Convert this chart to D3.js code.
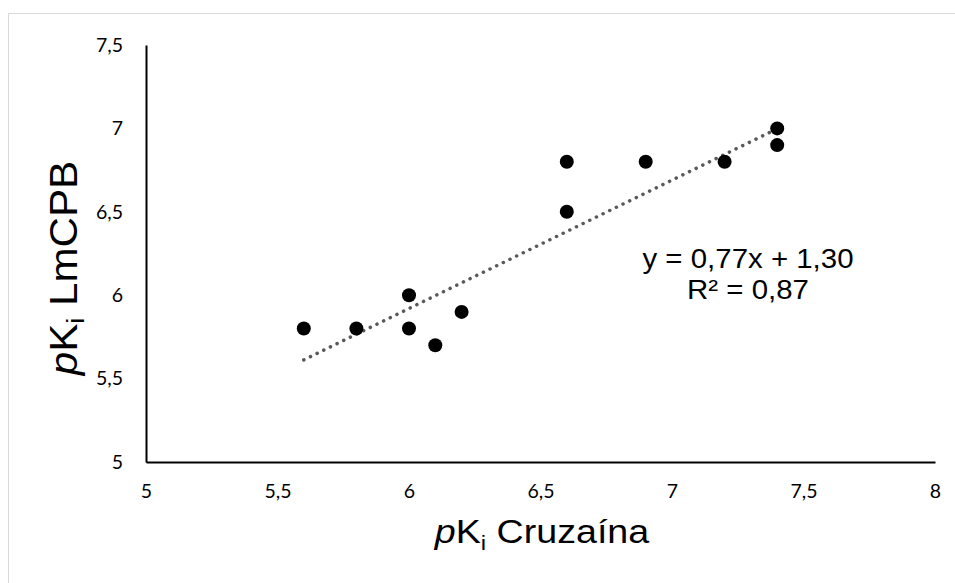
<!DOCTYPE html>
<html>
<head>
<meta charset="utf-8">
<script src="https://cdn.jsdelivr.net/npm/d3@7"></script>
<style>
  body { margin: 0; background: #fff; }
  svg { display: block; }
</style>
</head>
<body>
<div id="chart"></div>
<script>
// pKi values
var cruzaina = [5.6, 5.8, 6.0, 6.0, 6.1, 6.2, 6.6, 6.6, 6.9, 7.2, 7.4, 7.4];
var lmcpb    = [5.8, 5.8, 6.0, 5.8, 5.7, 5.9, 6.8, 6.5, 6.8, 6.8, 7.0, 6.9];
var xTicks = [5, 5.5, 6, 6.5, 7, 7.5, 8];
var yTicks = [5, 5.5, 6, 6.5, 7, 7.5];
var slope = 0.77, intercept = 1.30;
var eqLines = ["y = 0,77x + 1,30", "R\u00b2 = 0,87"];

var width = 955, height = 583;
var margin = {left: 146, right: 20, top: 45, bottom: 121};

var fmt = function (d) { return String(d).replace(".", ","); };

var svg = d3.select("#chart").append("svg")
  .attr("width", width)
  .attr("height", height);

// light frame of the chart area
svg.append("rect")
  .attr("x", 8.5).attr("y", 13.5)
  .attr("width", 980).attr("height", 620)
  .attr("fill", "none")
  .attr("stroke", "#d9d9d9")
  .attr("stroke-width", 1);

var x = d3.scaleLinear().domain([5, 8]).range([margin.left, 935]);
var y = d3.scaleLinear().domain([5, 7.5]).range([462, margin.top]);

var xAxis = svg.append("g")
  .attr("transform", "translate(0," + y(5) + ")")
  .call(d3.axisBottom(x).tickValues(xTicks).tickFormat(fmt).tickSize(0).tickPadding(22));

var yAxis = svg.append("g")
  .attr("transform", "translate(" + x(5) + ",0)")
  .call(d3.axisLeft(y).tickValues(yTicks).tickFormat(fmt).tickSize(0).tickPadding(23));

[xAxis, yAxis].forEach(function (a) {
  a.select(".domain").attr("stroke", "#000").attr("stroke-width", 2);
  a.selectAll("text")
    .attr("font-family", "Lato, 'Open Sans', sans-serif")
    .attr("font-size", 19.5)
    .attr("fill", "#000");
});

// trendline
var xs = d3.extent(cruzaina);
svg.append("line")
  .attr("x1", x(xs[0])).attr("y1", y(slope * xs[0] + intercept))
  .attr("x2", x(xs[1])).attr("y2", y(slope * xs[1] + intercept))
  .attr("stroke", "#595959")
  .attr("stroke-width", 3.5)
  .attr("stroke-linecap", "round")
  .attr("stroke-dasharray", "0.1 7.3");

svg.append("g").selectAll("circle")
  .data(cruzaina)
  .enter()
  .append("circle")
  .attr("cx", function (d) { return x(d); })
  .attr("cy", function (d, i) { return y(lmcpb[i]); })
  .attr("r", 7)
  .attr("fill", "#000");

// equation label (text is a bit wider than plain Arial in the original)
svg.append("text")
  .attr("transform", "translate(748,0) scale(1.09,1)")
  .attr("font-family", "'Liberation Sans', Arial, sans-serif")
  .attr("font-size", 27)
  .attr("text-anchor", "middle")
  .selectAll("tspan")
  .data(eqLines)
  .enter()
  .append("tspan")
  .attr("x", 0)
  .attr("y", function (d, i) { return 268 + i * 31; })
  .text(function (d) { return d; });

// axis titles
var xt = svg.append("text")
  .attr("transform", "translate(542,543) scale(1.14,1)")
  .attr("text-anchor", "middle")
  .attr("font-family", "'Liberation Sans', Arial, sans-serif")
  .attr("font-size", 33);
xt.append("tspan").attr("font-style", "italic").text("p");
xt.append("tspan").text("K");
xt.append("tspan").attr("font-size", 21).attr("dy", 7).text("i");
xt.append("tspan").attr("dy", -7).text(" Cruza\u00edna");

var yt = svg.append("text")
  .attr("transform", "translate(77,268) rotate(-90) scale(1.11,1)")
  .attr("text-anchor", "middle")
  .attr("font-family", "'Liberation Sans', Arial, sans-serif")
  .attr("font-size", 38);
yt.append("tspan").attr("font-style", "italic").text("p");
yt.append("tspan").text("K");
yt.append("tspan").attr("font-size", 24).attr("dy", 7).text("i");
yt.append("tspan").attr("dy", -7).text(" LmCPB");
</script>
</body>
</html>
